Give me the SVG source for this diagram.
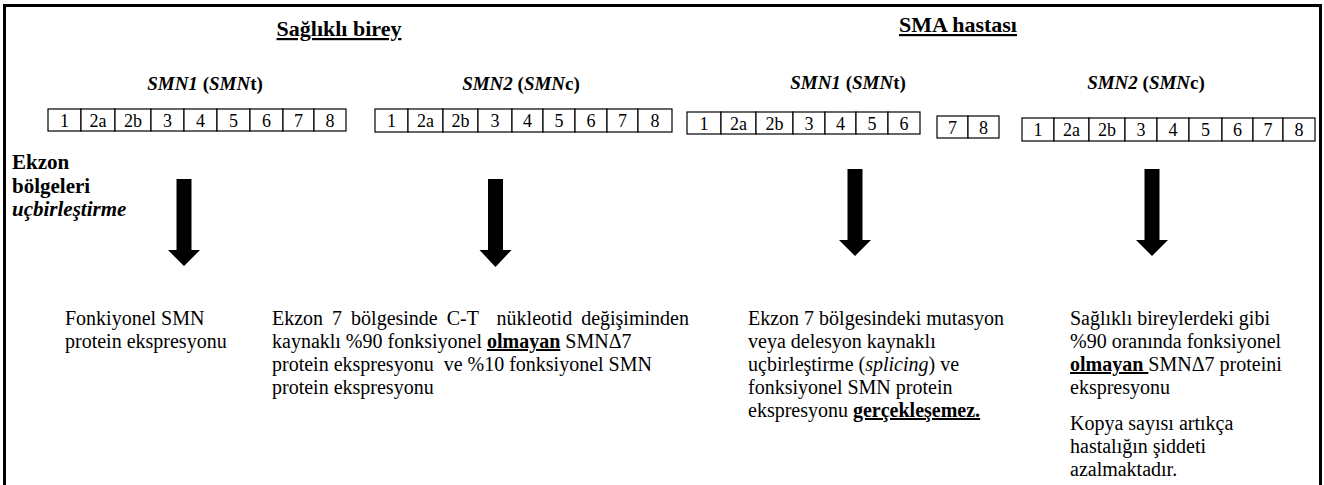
<svg xmlns="http://www.w3.org/2000/svg" width="1324" height="485" viewBox="0 0 1324 485" font-family="'Liberation Serif', Tinos, 'Times New Roman', 'Nimbus Roman', 'DejaVu Serif', serif">
<style>
  text { font-family: "Liberation Serif", Tinos, "Times New Roman", "Nimbus Roman", "DejaVu Serif", serif; fill: #000; }
  .title { font-size: 22px; font-weight: bold; text-decoration: underline; }
  .gene { font-size: 19px; font-weight: bold; }
  .gi { font-style: italic; }
  .cell { font-size: 18px; text-anchor: middle; }
  .body { font-size: 20px; }
  .side { font-size: 21px; font-weight: bold; }
  .b { font-weight: bold; }
  .u { text-decoration: underline; }
  .i { font-style: italic; }
  .box { fill: #fff; stroke: #000; stroke-width: 1.2; }
  .arrow { fill: #000; }
</style>
<rect x="0" y="0" width="1324" height="485" fill="#fff"/>
<rect x="4.5" y="5.5" width="1316" height="500" fill="none" stroke="#000" stroke-width="3"/>

<g id="title-healthy"><text class="title" x="339" y="36" text-anchor="middle">Sağlıklı birey</text></g>
<g id="title-sma"><text class="title" x="958" y="32" text-anchor="middle">SMA hastası</text></g>

<g id="label-h-smn1"><text class="gene" x="205" y="90" text-anchor="middle"><tspan class="gi">SMN1</tspan> (<tspan class="gi">SMN</tspan>t)</text></g>
<g id="label-h-smn2"><text class="gene" x="521" y="90" text-anchor="middle"><tspan class="gi">SMN2</tspan> (<tspan class="gi">SMN</tspan>c)</text></g>
<g id="label-s-smn1"><text class="gene" x="848" y="89" text-anchor="middle"><tspan class="gi">SMN1</tspan> (<tspan class="gi">SMN</tspan>t)</text></g>
<g id="label-s-smn2"><text class="gene" x="1146" y="89" text-anchor="middle"><tspan class="gi">SMN2</tspan> (<tspan class="gi">SMN</tspan>c)</text></g>

<g id="gene-h-smn1">
  <rect class="box" x="48" y="109" width="33" height="22"/><text class="cell" x="64.5" y="127">1</text>
  <rect class="box" x="81" y="109" width="34" height="22"/><text class="cell" x="98" y="127">2a</text>
  <rect class="box" x="115" y="109" width="36" height="22"/><text class="cell" x="133" y="127">2b</text>
  <rect class="box" x="151" y="109" width="33" height="22"/><text class="cell" x="167.5" y="127">3</text>
  <rect class="box" x="184" y="109" width="33" height="22"/><text class="cell" x="200.5" y="127">4</text>
  <rect class="box" x="217" y="109" width="33" height="22"/><text class="cell" x="233.5" y="127">5</text>
  <rect class="box" x="250" y="109" width="33" height="22"/><text class="cell" x="266.5" y="127">6</text>
  <rect class="box" x="283" y="109" width="31" height="22"/><text class="cell" x="298.5" y="127">7</text>
  <rect class="box" x="314" y="109" width="32" height="22"/><text class="cell" x="330" y="127">8</text>
</g>
<g id="gene-h-smn2">
  <rect class="box" x="375" y="109" width="33" height="23"/><text class="cell" x="391.5" y="127">1</text>
  <rect class="box" x="408" y="109" width="35" height="23"/><text class="cell" x="425.5" y="127">2a</text>
  <rect class="box" x="443" y="109" width="35" height="23"/><text class="cell" x="460.5" y="127">2b</text>
  <rect class="box" x="478" y="109" width="34" height="23"/><text class="cell" x="495" y="127">3</text>
  <rect class="box" x="512" y="109" width="31" height="23"/><text class="cell" x="527.5" y="127">4</text>
  <rect class="box" x="543" y="109" width="32" height="23"/><text class="cell" x="559" y="127">5</text>
  <rect class="box" x="575" y="109" width="32" height="23"/><text class="cell" x="591" y="127">6</text>
  <rect class="box" x="607" y="109" width="31" height="23"/><text class="cell" x="622.5" y="127">7</text>
  <rect class="box" x="638" y="109" width="34" height="23"/><text class="cell" x="655" y="127">8</text>
</g>
<g id="gene-s-smn1">
  <rect class="box" x="687" y="112" width="34" height="22"/><text class="cell" x="704" y="130">1</text>
  <rect class="box" x="721" y="112" width="35" height="22"/><text class="cell" x="738.5" y="130">2a</text>
  <rect class="box" x="756" y="112" width="37" height="22"/><text class="cell" x="774.5" y="130">2b</text>
  <rect class="box" x="793" y="112" width="32" height="22"/><text class="cell" x="809" y="130">3</text>
  <rect class="box" x="825" y="112" width="31" height="22"/><text class="cell" x="840.5" y="130">4</text>
  <rect class="box" x="856" y="112" width="32" height="22"/><text class="cell" x="872" y="130">5</text>
  <rect class="box" x="888" y="112" width="32" height="22"/><text class="cell" x="904" y="130">6</text>
</g>
<g id="gene-s-smn1-78">
  <rect class="box" x="937" y="116" width="31" height="22"/><text class="cell" x="952.5" y="134">7</text>
  <rect class="box" x="968" y="116" width="31" height="22"/><text class="cell" x="983.5" y="134">8</text>
</g>
<g id="gene-s-smn2">
  <rect class="box" x="1022" y="118" width="32" height="23"/><text class="cell" x="1038" y="136">1</text>
  <rect class="box" x="1054" y="118" width="35" height="23"/><text class="cell" x="1071.5" y="136">2a</text>
  <rect class="box" x="1089" y="118" width="36" height="23"/><text class="cell" x="1107" y="136">2b</text>
  <rect class="box" x="1125" y="118" width="32" height="23"/><text class="cell" x="1141" y="136">3</text>
  <rect class="box" x="1157" y="118" width="32" height="23"/><text class="cell" x="1173" y="136">4</text>
  <rect class="box" x="1189" y="118" width="33" height="23"/><text class="cell" x="1205.5" y="136">5</text>
  <rect class="box" x="1222" y="118" width="31" height="23"/><text class="cell" x="1237.5" y="136">6</text>
  <rect class="box" x="1253" y="118" width="30" height="23"/><text class="cell" x="1268" y="136">7</text>
  <rect class="box" x="1283" y="118" width="32" height="23"/><text class="cell" x="1299" y="136">8</text>
</g>

<g id="side-label">
  <text class="side" x="12" y="169">Ekzon</text>
  <text class="side" x="12" y="193">bölgeleri</text>
  <text class="side" x="12" y="216"><tspan class="i">uçbirleştirme</tspan></text>
</g>

<g id="connectors">
  <path class="arrow" d="M176.5,179 H191.5 V250 H200 L184,266 L168,250 H176.5 Z"/>
  <path class="arrow" d="M488,179 H503 V250 H511.5 L495.5,267 L479.5,250 H488 Z"/>
  <path class="arrow" d="M847.5,169 H862.5 V240 H871 L855,256 L839,240 H847.5 Z"/>
  <path class="arrow" d="M1144.5,169 H1159.5 V240 H1168 L1152,256 L1136,240 H1144.5 Z"/>
</g>

<g id="result-1">
  <text class="body" x="65" y="325">Fonkiyonel SMN</text>
  <text class="body" x="65" y="348">protein ekspresyonu</text>
</g>
<g id="result-2">
  <text class="body" x="272" y="325" xml:space="preserve" word-spacing="4">Ekzon 7 bölgesinde C-T  nükleotid değişiminden</text>
  <text class="body" x="272" y="348">kaynaklı %90 fonksiyonel <tspan class="b u">olmayan</tspan> SMNΔ7</text>
  <text class="body" x="272" y="371" xml:space="preserve">protein ekspresyonu  ve %10 fonksiyonel SMN</text>
  <text class="body" x="272" y="394">protein ekspresyonu</text>
</g>
<g id="result-3">
  <text class="body" x="748" y="325">Ekzon 7 bölgesindeki mutasyon</text>
  <text class="body" x="748" y="348">veya delesyon kaynaklı</text>
  <text class="body" x="748" y="371">uçbirleştirme (<tspan class="i">splicing</tspan>) ve</text>
  <text class="body" x="748" y="394">fonksiyonel SMN protein</text>
  <text class="body" x="748" y="417">ekspresyonu <tspan class="b u">gerçekleşemez.</tspan></text>
</g>
<g id="result-4">
  <text class="body" x="1070" y="325">Sağlıklı bireylerdeki gibi</text>
  <text class="body" x="1070" y="348">%90 oranında fonksiyonel</text>
  <text class="body" x="1070" y="371" xml:space="preserve"><tspan class="b u">olmayan </tspan>SMNΔ7 proteini</text>
  <text class="body" x="1070" y="394">ekspresyonu</text>
  <text class="body" x="1070" y="430">Kopya sayısı artıkça</text>
  <text class="body" x="1070" y="453">hastalığın şiddeti</text>
  <text class="body" x="1070" y="476">azalmaktadır.</text>
</g>
</svg>
